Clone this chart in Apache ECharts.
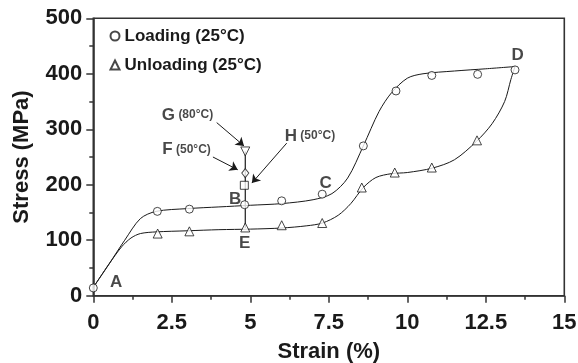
<!DOCTYPE html>
<html><head><meta charset="utf-8">
<script src="https://cdn.jsdelivr.net/npm/echarts@6/dist/echarts.min.js"></script>
<style>html,body{margin:0;padding:0;background:#fff}#c{width:578px;height:363px}</style>
</head><body><div id="c"></div>
<script>
// ---- data ----
const xTickStep = 2.5;
const yTickStep = 100;
const loadingStrain = [0, 2.04, 3.06, 4.82, 6.0, 7.29, 8.6, 9.64, 10.78, 12.24, 13.43];
const loadingStress = [14, 152, 156, 164, 171, 183, 270, 369, 397, 399, 407];
const unloadingStrain = [2.05, 3.06, 4.84, 6.0, 7.29, 8.55, 9.6, 10.78, 12.22];
const unloadingStress = [112, 116, 123, 127, 131, 195, 222, 231, 280];
// fitted curves (traced)
const loadCurveX = [0, 0.5, 1.0, 1.5, 2.0, 3.0, 4.0, 5.0, 6.0, 7.0, 7.6, 8.1, 8.6, 9.1, 9.5, 10.0, 10.5, 11.5, 12.5, 13.43];
const loadCurveY = [15, 57, 100, 139, 152, 157, 160, 163, 166, 173, 184, 212, 270, 332, 366, 392, 400, 405, 409, 413];
const unloadCurveX = [0, 0.5, 0.9, 1.2, 1.5, 2.0, 3.0, 4.0, 5.0, 6.0, 6.8, 7.3, 7.8, 8.2, 8.6, 9.0, 9.5, 10.0, 10.8, 11.5, 12.2, 12.7, 13.1, 13.3, 13.43];
const unloadCurveY = [15, 57, 88, 104, 112, 115, 117, 119, 120, 122, 126, 131, 145, 166, 195, 213, 220, 222, 230, 245, 278, 310, 350, 390, 413];
// vertical step at B/E
const stepStrain = [4.84, 4.84];
const stepStress = [122, 260];
// special points
const pointG = [4.84, 260]; // 80°C
const pointF = [4.84, 221]; // 50°C
const pointH = [4.81, 199]; // 50°C
// annotation texts and anchor points (data coordinates)
const annoText = ['A', 'B', 'C', 'D', 'E', 'G|(80°C)', 'F|(50°C)', 'H|(50°C)'];
const annoX = [0.73, 4.52, 7.4, 13.51, 4.82, 3.0, 2.97, 6.9];
const annoY = [25, 174, 203, 434, 94, 326, 263, 288];
// arrows: [fromX, fromY, toX, toY]
const arrowG = [3.93, 312, 4.8, 270];
const arrowF = [3.81, 250, 4.6, 227];
const arrowH = [6.16, 275, 5.05, 203];

const zip = (a, b) => a.map((v, i) => [v, b[i]]);
const ink = '#1a1a1a';
const font = 'Liberation Sans, Arial, sans-serif';
const mk = {color: '#fff', borderColor: ink, borderWidth: 1};

const chart = echarts.init(document.getElementById('c'), null, {renderer: 'canvas'});
chart.setOption({
  animation: false,
  backgroundColor: '#fff',
  textStyle: {fontFamily: font},
  grid: {left: 93.3, right: 13.7, top: 18.3, bottom: 67.3, show: true, borderColor: '#333', borderWidth: 1.6, backgroundColor: 'transparent', containLabel: false, outerBoundsMode: 'none'},
  legend: {
    left: 104.5, top: 22, orient: 'vertical', itemWidth: 9, itemHeight: 9, itemGap: 11,
    data: ['Loading (25°C)', 'Unloading (25°C)'],
    textStyle: {fontSize: 17, fontWeight: 'bold', color: ink, lineHeight: 18, fontFamily: font}
  },
  xAxis: {
    type: 'value', min: 0, max: 15, interval: xTickStep,
    name: 'Strain (%)', nameLocation: 'middle', nameGap: 45,
    nameTextStyle: {fontSize: 22, fontWeight: 'bold', color: ink},
    axisLine: {onZero: false, lineStyle: {color: '#333', width: 1.6}},
    axisTick: {inside: false, length: 7, lineStyle: {color: '#333', width: 1.5}},
    minorTick: {show: true, splitNumber: 2, length: 4, lineStyle: {color: '#333', width: 1.5}},
    splitLine: {show: false},
    axisLabel: {fontSize: 22, fontWeight: 'bold', color: ink, margin: 16}
  },
  yAxis: {
    type: 'value', min: 0, max: 500, interval: yTickStep,
    name: 'Stress (MPa)', nameLocation: 'middle', nameGap: 60,
    nameTextStyle: {fontSize: 22, fontWeight: 'bold', color: ink},
    axisLine: {onZero: false, lineStyle: {color: '#333', width: 1.6}},
    axisTick: {inside: false, length: 7, lineStyle: {color: '#333', width: 1.5}},
    minorTick: {show: true, splitNumber: 2, length: 4, lineStyle: {color: '#333', width: 1.5}},
    splitLine: {show: false},
    axisLabel: {fontSize: 22, fontWeight: 'bold', color: ink, margin: 11}
  },
  series: [
    {name: 'loadCurve', type: 'line', data: zip(loadCurveX, loadCurveY), smooth: 0.3, showSymbol: false, symbol: 'none', lineStyle: {color: ink, width: 1}, silent: true, z: 2},
    {name: 'unloadCurve', type: 'line', data: zip(unloadCurveX, unloadCurveY), smooth: 0.3, showSymbol: false, symbol: 'none', lineStyle: {color: ink, width: 1}, silent: true, z: 2},
    {name: 'step', type: 'line', data: zip(stepStrain, stepStress), showSymbol: false, symbol: 'none', lineStyle: {color: ink, width: 1.2}, silent: true, z: 2},
    {name: 'Loading (25°C)', type: 'scatter', data: zip(loadingStrain, loadingStress), symbol: 'circle', symbolSize: 8, itemStyle: mk, z: 3},
    {name: 'Unloading (25°C)', type: 'scatter', data: zip(unloadingStrain, unloadingStress), symbol: 'triangle', symbolSize: 9, itemStyle: mk, z: 3},
    {name: 'G', type: 'scatter', data: [pointG], symbol: 'triangle', symbolRotate: 180, symbolSize: 9, itemStyle: mk, z: 3},
    {name: 'F', type: 'scatter', data: [pointF], symbol: 'diamond', symbolSize: [7, 9], itemStyle: mk, z: 3},
    {name: 'H', type: 'scatter', data: [pointH], symbol: 'rect', symbolSize: 8, itemStyle: mk, z: 3},
    {
      name: 'annotations', type: 'scatter', symbolSize: 0, silent: true, z: 4,
      data: annoText.map((t, i) => ({value: [annoX[i], annoY[i]], txt: t})),
      label: {
        show: true, position: 'inside', color: ink,
        formatter: p => {
          const parts = p.data.txt.split('|');
          return parts.length > 1 ? '{m|' + parts[0] + '} {s|' + parts[1] + '}' : '{m|' + parts[0] + '}';
        },
        rich: {
          m: {fontSize: 17, fontWeight: 'bold', color: ink, fontFamily: font},
          s: {fontSize: 12, fontWeight: 'bold', color: ink, fontFamily: font}
        }
      },
      markLine: {
        silent: true, animation: false, symbol: ['none', 'arrow'], symbolSize: 8,
        lineStyle: {color: ink, width: 1, type: 'solid'}, label: {show: false},
        data: [arrowG, arrowF, arrowH].map(a => [{coord: [a[0], a[1]]}, {coord: [a[2], a[3]]}])
      }
    }
  ]
});
</script></body></html>
